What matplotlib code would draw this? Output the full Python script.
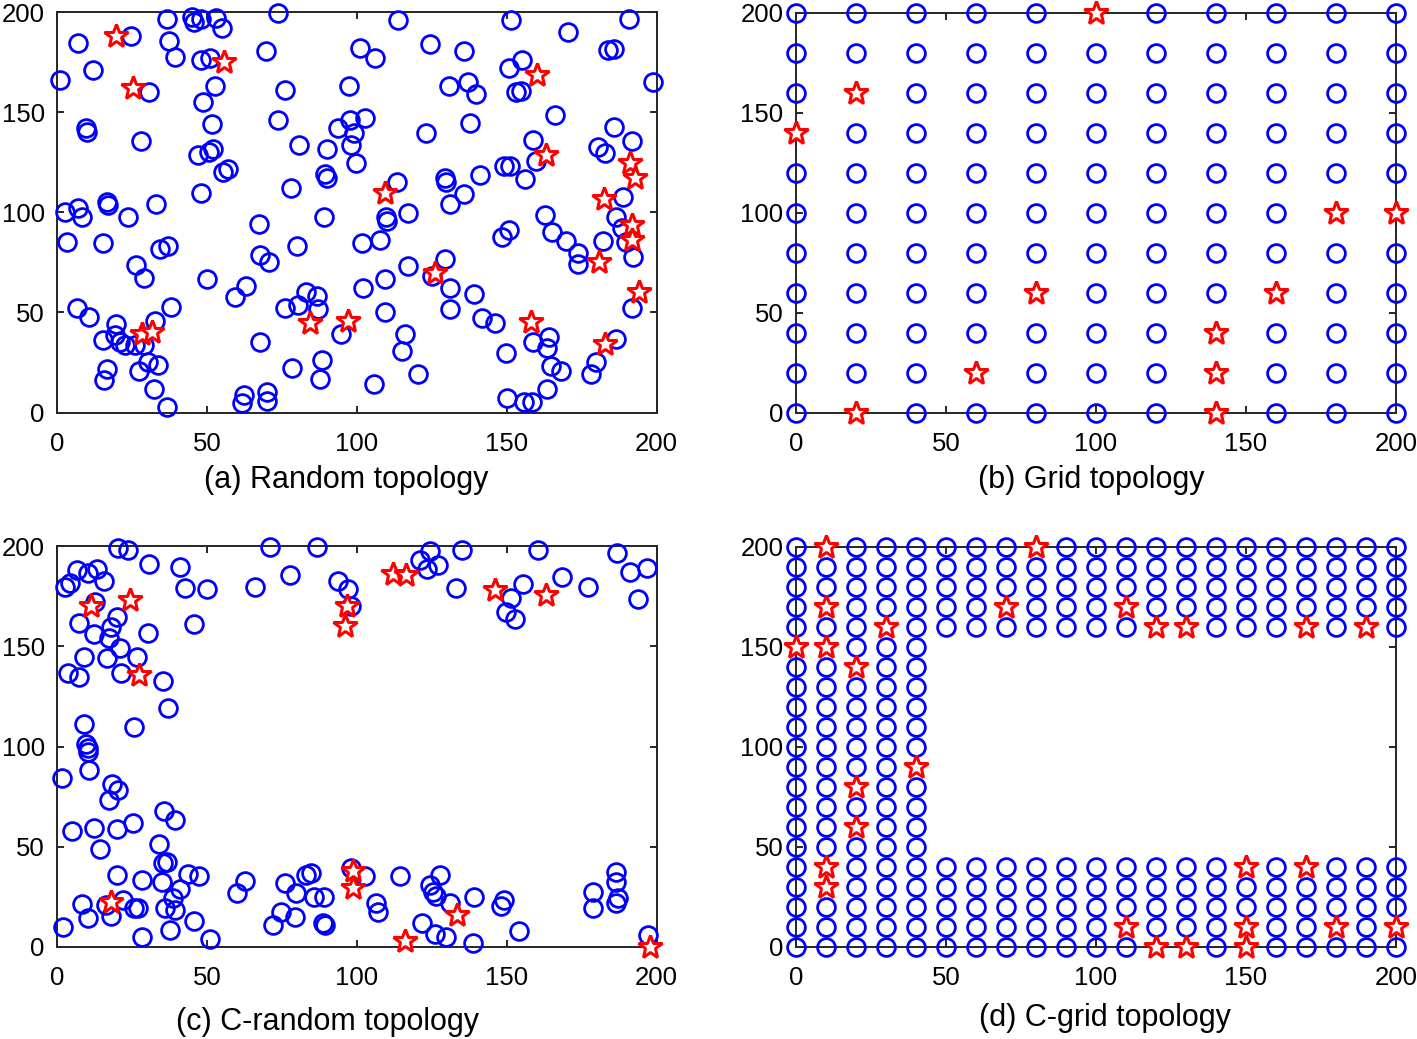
import numpy as np
import matplotlib
matplotlib.use('Agg')
import matplotlib.pyplot as plt

plt.rcParams['font.family'] = ['Liberation Sans', 'DejaVu Sans']

# ---------------- data ----------------
# (a) Random topology
a_circles = [
    (1, 166.3), (7, 184.6), (12, 171.3), (24.6, 188.4), (30.6, 160.1), (9.5, 142.4), (10, 140), (27.8, 135.7),
    (36.7, 196.7), (37.2, 185.9), (39.2, 177.9), (44.8, 197.9), (45.7, 195.1), (48.1, 196.8), (52.8, 197.1), (55.1, 192.4),
    (48.1, 176.3), (50.9, 177.1), (52.6, 163.4), (48.7, 155.4), (51.5, 144.3), (46.8, 128.8), (50.7, 130.4), (52, 131.6),
    (55.3, 120.4), (57, 121.8), (47.9, 109.6),
    (73.7, 199.6), (69.8, 180.8), (75.9, 161.3), (73.7, 146.3), (80.7, 133.8), (77.9, 112.4), (89.2, 119.1), (90.1, 131.8),
    (90.1, 117.1), (93.7, 142.4), (97.6, 146.3), (97.2, 163.4), (98, 133.8), (98.9, 139.6), (99.8, 124.6), (101, 182.4),
    (2.6, 100), (7, 102), (8.3, 97.5), (16.7, 105.4), (17, 103.7), (23.7, 97.5), (32.9, 104), (67.3, 94.3), (89, 97.6),
    (3.1, 85.4), (15.3, 84.6), (26.1, 73.8), (29, 67.4), (34.2, 81.6), (36.8, 83.3), (50.1, 66.6), (67.6, 78.8), (70.6, 75.1),
    (80, 83.3), (59.2, 57.6), (63.1, 63.3),
    (6.5, 52.1), (10.7, 47.6), (19.5, 44.1), (15.3, 36.3), (19.2, 38.8), (20.9, 35.4), (22.6, 33.8), (25.9, 33.8), (29, 33.8),
    (32.6, 45.9), (37.9, 52.9),
    (16.5, 21.6), (15.7, 16.3), (27.2, 20.9), (30.1, 25.4), (33.7, 23.8), (32.3, 11.6), (36.5, 2.9),
    (67.6, 35.4), (61.5, 4.6), (62.3, 8.8), (70.1, 10.4), (70.1, 5.9), (78.3, 22.1), (88.3, 26.3), (87.7, 16.6),
    (76.1, 52.1), (80.3, 53.8), (83.1, 60.4), (86.5, 58.3), (87, 51.8), (94.6, 39.3),
    (101.8, 84.9), (107.6, 86.3), (109.8, 97.5), (110, 95.5), (117, 99.5), (130.9, 104.1), (102, 62.4), (109.2, 66.8),
    (117, 73.4), (125.1, 68.4), (129.5, 76.6), (130.9, 62.1), (130.9, 51.6), (138.9, 59.1), (141.8, 47.1), (146.2, 44.9),
    (109.2, 50.1), (115.9, 39.3), (115, 30.9), (120.3, 19.1), (105.6, 14.1), (149.6, 29.6), (158.7, 35.1), (164.2, 37.9),
    (163.4, 32.1), (164.6, 23.3), (168.1, 20.9), (163.4, 11.8), (150.1, 7.1), (155.6, 5.4), (158.5, 5.4), (179.8, 25.4),
    (178.1, 19.3), (186.5, 36.8), (191.8, 52.1), (148.5, 87.9), (150.7, 91.3), (162.6, 98.5), (165.1, 90.4), (169.8, 85.9),
    (173.7, 79.9), (173.7, 74.3), (182, 85.9), (186.5, 97.6), (188.5, 92.1), (189.6, 85.4), (192.2, 77.9),
    (113.7, 196.3), (151.5, 196.3), (190.9, 196.8), (170.3, 190.4), (106.1, 177.4), (124.2, 184.1), (135.6, 180.8),
    (150.7, 172.1), (155, 176.3), (183.7, 181.3), (185.9, 181.6), (198.9, 165.1), (130.7, 163.4), (137, 165.1),
    (139.6, 159.1), (152.9, 160.1), (154.8, 160.8), (102.6, 147.4), (123.1, 139.6), (137.8, 144.6), (166.1, 148.8),
    (158.7, 136.3), (159.8, 125.8), (149, 123.4), (151.2, 123.4), (155.9, 116.8), (140.9, 118.8), (129.2, 117.1),
    (129.8, 115.1), (135.7, 109.1), (113.4, 115.1), (180.3, 132.9), (182.6, 129.9), (185.6, 142.9), (191.8, 135.8),
    (188.7, 107.6),
]
a_stars = [
    (19.5, 188), (25.3, 162.4), (55.7, 175.1), (28.1, 39.3), (31.5, 40.4), (84.2, 44.6), (97, 45.9), (125.9, 69.6),
    (158.1, 45.1), (182.9, 34.1), (194, 60.4), (180.7, 75.4), (191.8, 93.8), (191.8, 86.3), (109.2, 109.9),
    (160.1, 168.8), (163.1, 128.8), (191.2, 124.6), (192.8, 117.1), (182.4, 106.8),
]

# (b) Grid topology
b_grid_x = [0, 20, 40, 60, 80, 100, 120, 140, 160, 180, 200]
b_grid_y = [0, 20, 40, 60, 80, 100, 120, 140, 160, 180, 200]
b_stars = [(100, 200), (20, 160), (0, 140), (180, 100), (200, 100), (80, 60), (160, 60),
           (140, 40), (60, 20), (140, 20), (20, 0), (140, 0)]

# (c) C-random topology
c_circles = [
    (20.3, 199.4), (23.7, 198), (71.1, 199.7), (86.5, 199.7), (30.7, 191), (41.1, 189.7), (77.8, 185.7), (6.5, 188),
    (10.3, 186.9), (13.3, 188.5), (15.6, 182.7), (4.2, 181.9), (2.6, 179.7), (42.6, 179.4), (50.1, 178.5), (66.1, 179.7),
    (93.7, 182.7), (97, 178.5), (97.9, 170.2), (12.6, 172.2), (19.8, 164.9), (17.9, 159.7), (7.3, 161.9), (12.3, 156.4),
    (17.2, 154.4), (20.9, 149.4), (30.3, 156.5), (45.6, 161), (9, 144.9), (16.5, 144), (26.5, 144.9), (3.7, 136.9),
    (7.3, 134.9), (21.2, 136.5), (35.3, 132.7), (36.8, 119.4), (8.9, 111.4), (25.7, 109.9), (9.5, 101), (10.2, 99.5),
    (10.4, 97.5),
    (1.5, 84.5), (10.7, 88.4), (18.1, 81.2), (20.3, 78.4), (17.2, 73.4), (35.7, 67.9), (39.2, 63.4), (4.8, 58),
    (12.3, 59.5), (20, 58.7), (25.1, 61.7), (14.2, 48.7), (34, 51.4), (35.3, 41.7), (36.5, 42.5), (19.8, 35.9),
    (28.3, 33.4), (35, 32.5), (43.5, 36.2), (47.2, 35.5), (40.9, 28.9), (38.5, 24.2), (36.1, 19.5), (39.2, 18.4),
    (8.3, 21.2), (16.2, 20.9), (22, 23.4), (25.7, 19.2), (26.8, 19.2), (17.9, 15.4), (10.3, 14.2), (2, 9.7),
    (28.3, 4.7), (37.6, 8.4), (45.7, 12.9), (50.9, 3.9), (59.8, 26.7), (62.6, 33), (76.1, 32), (79.6, 26.7),
    (83.1, 35.9), (84.5, 37), (85.7, 24.7), (89, 24.7), (74.8, 17.5), (72, 10.9), (79.2, 14.7), (88.7, 11.7),
    (89.2, 10.9), (98.1, 39.2),
    (102.6, 35.4), (106.5, 21.7), (107, 17.5), (114.2, 35.4), (121.8, 11.7), (125.9, 6.2), (129.6, 5), (124.5, 30.9),
    (125.3, 27.5), (126.2, 25.5), (127.8, 35.9), (130.9, 21.7), (138.7, 1.7), (139.2, 24.7), (148.1, 20.5),
    (149.2, 23.4), (154, 8), (178.9, 27.5), (178.9, 19.2), (186.5, 37.5), (186.5, 32.5), (187, 24.2), (186.5, 21.7),
    (197, 5.9),
    (120.9, 193), (124.5, 197.7), (123.3, 188.5), (127, 190.5), (135.1, 198), (133.1, 179), (151.5, 174.4),
    (155.3, 181.4), (149.8, 167.4), (152.6, 163.9), (160.3, 198), (168.3, 184.7), (177, 179.9), (186.7, 196.9),
    (191.2, 187.4), (196.7, 189.4), (193.9, 173.5),
]
c_stars = [
    (11.1, 170.2), (24.2, 173), (27.2, 135.5), (96.5, 170.2), (95.9, 160.2), (17.9, 22.5), (98.7, 37.9), (98.7, 29.2),
    (133.3, 15.9), (115.9, 2.9), (197.6, 0), (112, 186), (116.2, 185.7), (145.9, 178), (163.1, 175.7),
]

# (d) C-grid topology
d_grid_x = [0, 10, 20, 30, 40, 50, 60, 70, 80, 90, 100, 110, 120, 130, 140, 150, 160, 170, 180, 190, 200]
d_grid_y = [0, 10, 20, 30, 40, 50, 60, 70, 80, 90, 100, 110, 120, 130, 140, 150, 160, 170, 180, 190, 200]
d_left_cols_x = [0, 10, 20, 30, 40]          # full-height columns
d_band_y = [0, 10, 20, 30, 40, 160, 170, 180, 190, 200]  # bottom and top bands
d_stars = [(10, 200), (80, 200), (10, 170), (70, 170), (110, 170), (30, 160), (120, 160), (130, 160), (170, 160),
           (190, 160), (0, 150), (10, 150), (20, 140), (40, 90), (20, 80), (20, 60), (10, 40), (10, 30),
           (150, 40), (170, 40), (110, 10), (150, 10), (180, 10), (200, 10), (120, 0), (130, 0), (150, 0)]

ticks = [0, 50, 100, 150, 200]
labels = ['(a) Random topology', '(b) Grid topology', '(c) C-random topology', '(d) C-grid topology']

# ---------------- figure ----------------
W, H = 1417, 1039
fig = plt.figure(figsize=(W / 100, H / 100), dpi=100)


def add_ax(l, t, r, b):
    return fig.add_axes([l / W, 1 - b / H, (r - l) / W, (b - t) / H])


axes = [add_ax(57.3, 12.3, 656.7, 412.5), add_ax(796, 13, 1396, 413),
        add_ax(57.3, 546.3, 656.7, 946.7), add_ax(796, 546.5, 1396, 947)]

circ_kw = dict(linestyle='none', marker='o', markersize=12.8, markerfacecolor='none',
               markeredgecolor='#0000ff', markeredgewidth=2.0, clip_on=False, zorder=3)
star_kw = dict(linestyle='none', marker='*', markersize=18, markerfacecolor='white',
               markeredgecolor='#ff0000', markeredgewidth=2.2, clip_on=False, zorder=4)


def plot_pts(ax, circles, stars):
    cx = [p[0] for p in circles]
    cy = [p[1] for p in circles]
    ax.plot(cx, cy, **circ_kw)
    sx = [p[0] for p in stars]
    sy = [p[1] for p in stars]
    ax.plot(sx, sy, **star_kw)


# (a)
plot_pts(axes[0], a_circles, a_stars)
# (b)
b_star_set = set(b_stars)
b_circles = [(x, y) for x in b_grid_x for y in b_grid_y if (x, y) not in b_star_set]
plot_pts(axes[1], b_circles, b_stars)
# (c)
plot_pts(axes[2], c_circles, c_stars)
# (d)
d_star_set = set(d_stars)
d_nodes = [(x, y) for x in d_grid_x for y in d_grid_y if (x in d_left_cols_x or y in d_band_y)]
d_circles = [p for p in d_nodes if p not in d_star_set]
plot_pts(axes[3], d_circles, d_stars)

for ax in axes:
    ax.set_xlim(0, 200)
    ax.set_ylim(0, 200)
    ax.set_xticks(ticks)
    ax.set_yticks(ticks)
    ax.tick_params(direction='in', length=5, width=1.4, colors='#262626', labelcolor='black',
                   labelsize=18.5, top=True, right=True)
    ax.tick_params(axis='x', pad=14)
    ax.tick_params(axis='y', pad=9)
    for s in ax.spines.values():
        s.set_color('#262626')
        s.set_linewidth(1.4)

label_pos = [(346, 480), (1091, 480), (328, 1022), (1105, 1018)]
for (px, py), txt in zip(label_pos, labels):
    fig.text(px / W, 1 - py / H, txt, ha='center', va='center', fontsize=22)

fig.savefig('out.png', dpi=100)
